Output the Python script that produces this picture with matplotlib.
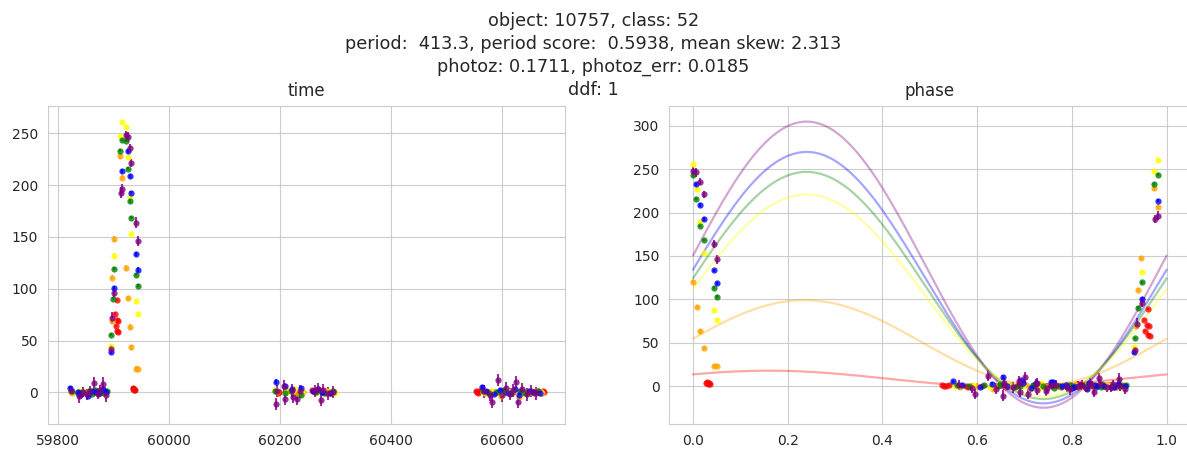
import numpy as np
import matplotlib
matplotlib.use("Agg")
import matplotlib.pyplot as plt
import seaborn as sns

sns.set_style("whitegrid")
plt.rcParams["font.family"] = ["DejaVu Sans"]

# ---- object summary ----
object_id = 10757
target_class = 52
period = 413.26
period_score = 0.5938
mean_skew = 2.313
photoz = 0.1711
photoz_err = 0.0185
ddf = 1

band_colors = ["purple", "blue", "green", "yellow", "orange", "red"]

# ---- light curve per passband: MJD, flux, flux error ----
t_u = [59823, 59838, 59845, 59852, 59858, 59864, 59871, 59876, 59881, 59886,
       59895.0, 59896.6, 59900.8, 59912.4, 59915.3, 59922.8, 59925.0, 59928.9, 59932.0, 59940.8, 59943.4,
       60193, 60194, 60207, 60208, 60222, 60223, 60231, 60236, 60262, 60269, 60273, 60278, 60287, 60295,
       60568, 60579, 60582, 60593, 60600, 60607, 60615, 60620, 60626, 60628, 60636, 60645, 60653, 60662]
f_u = [1.5, -3.8, 0.5, -2.0, 1.2, 9.0, -1.5, 2.0, 8.5, -3.0,
       41.4, 72.0, 95.8, 192.7, 196.5, 248.5, 246.5, 235.8, 221.0, 163.8, 146.0,
       -11.0, 1.5, 6.0, -6.5, 2.0, -4.5, -6.0, 1.0, 1.5, 3.0, -7.0, 2.5, -1.0, 0.5,
       1.0, -2.5, -9.0, 12.0, -3.0, 4.0, -1.5, 2.0, 10.0, -9.0, 3.0, -2.0, 1.5, -1.0]
e_u = [5, 6, 5, 5, 5, 6, 5, 5, 6, 6,
       4, 6, 5, 5, 5, 4, 5, 4, 4, 5, 5,
       6, 6, 6, 6, 6, 6, 6, 6, 6, 6, 6, 6, 6, 6,
       6, 6, 6, 6, 6, 6, 6, 6, 6, 6, 6, 6, 6, 6]

t_g = [59822, 59835, 59840, 59853, 59860, 59868, 59874, 59880, 59886,
       59894.6, 59900.8, 59914.8, 59925.6, 59928.9, 59932.0, 59940.8, 59943.4,
       60193, 60209, 60222, 60237, 60260, 60268, 60275, 60290,
       60563, 60571, 60586, 60597, 60610, 60624, 60631, 60648, 60658, 60668]
f_g = [4.5, 0.8, -2.5, -3.8, 1.5, 0.5, -1.0, 2.8, 0.2,
       38.7, 100.4, 213.8, 232.7, 209.0, 192.7, 133.5, 118.5,
       10.5, 6.5, 3.5, 4.5, 1.5, 3.0, 0.5, -1.0,
       5.5, 1.0, -1.5, 2.5, -0.5, 3.0, -2.5, 1.0, 0.5, -1.0]
e_g = [2] * len(t_g)

t_r = [59824, 59836, 59842, 59855, 59861, 59866, 59876, 59882, 59887,
       59895.0, 59897.9, 59900.8, 59912.1, 59915.3, 59922.8, 59925.6, 59928.9, 59932.0, 59940.8, 59943.4,
       60191, 60208, 60220, 60238, 60264, 60279, 60296,
       60566, 60577, 60590, 60604, 60617, 60633, 60641, 60655, 60665]
f_r = [1.2, -0.8, 0.5, 1.8, -1.2, 2.5, 0.3, -0.5, 1.0,
       55.5, 90.4, 119.5, 233.0, 243.7, 243.0, 216.0, 184.6, 168.5, 113.5, 103.0,
       1.5, -0.5, 1.0, -2.5, 0.2, -1.0, 1.2,
       1.0, -0.5, 0.8, 2.0, -1.0, 1.5, -0.5, 0.3, 1.2]
e_r = [1.5] * len(t_r)

t_i = [59823, 59837, 59851, 59862, 59873, 59884,
       59894.6, 59900.8, 59911.8, 59915.1, 59922.8, 59926.0, 59928.9, 59932.0, 59940.8, 59943.4,
       60190, 60211, 60226, 60240, 60266, 60284, 60298,
       60565, 60580, 60595, 60611, 60622, 60638, 60650, 60670]
f_i = [0.2, 1.0, -0.8, 1.5, 0.6, -1.2,
       44.8, 132.0, 247.5, 260.5, 255.8, 227.0, 189.0, 153.0, 87.7, 76.0,
       2.5, 0.5, 3.5, -1.0, 0.8, 1.5, -0.5,
       0.5, 1.5, -0.8, 1.0, 2.0, -1.5, 0.5, 0.8]
e_i = [2] * len(t_i)

t_z = [59824, 59843, 59856, 59869, 59879, 59885,
       59896.2, 59897.7, 59900.6, 59912.1, 59915.1, 59922.8, 59926.0, 59928.9, 59932.0, 59940.9, 59943.4,
       60195, 60213, 60229, 60242, 60270, 60288,
       60569, 60584, 60598, 60613, 60630, 60644, 60660, 60672]
f_z = [-0.5, 0.8, 1.2, -0.6, 0.4, 0.9,
       69.0, 110.7, 148.0, 228.0, 207.0, 120.0, 90.8, 63.0, 43.5, 23.0, 23.0,
       0.5, 1.5, -1.5, 0.5, 2.0, 0.8,
       -1.0, 0.5, -3.5, 1.2, -4.0, 0.6, 1.0, -0.5]
e_z = [2.5] * len(t_z)

t_y = [59845, 59852, 59858, 59866, 59870, 59872, 59874, 59876, 59878, 59880, 59882,
       59902.9, 59903.6, 59905.8, 59906.1, 59906.8, 59907.0, 59908.6,
       59933.9, 59935.1, 59935.9, 59936.8, 59937.6,
       60196, 60198, 60258, 60260, 60262, 60265, 60282, 60285, 60289, 60292, 60297,
       60553, 60555, 60557, 60559, 60574, 60576, 60588, 60602, 60605, 60619,
       60634, 60640, 60646, 60657, 60664, 60667, 60670, 60673, 60676]
f_y = [-1.0, 0.5, -0.5, 0.8, 1.5, -0.2, 0.9, -0.8, 0.3, 1.1, -0.4,
       76.0, 64.0, 70.0, 59.4, 89.0, 69.0, 58.2,
       3.0, 4.5, 2.5, 3.5, 2.0,
       -1.0, 0.5, 2.5, 1.8, 0.3, 1.0, -0.5, 1.2, 0.0, -0.8, 0.6,
       1.5, 0.5, -0.5, 1.0, 0.2, -0.8, 0.6, -0.3, 1.0, 0.4,
       -0.5, 0.8, 0.2, -0.6, 1.1, 0.3, -0.4, 0.9, 0.1]
e_y = [1.2] * len(t_y)

band_times = [t_u, t_g, t_r, t_i, t_z, t_y]
band_fluxes = [f_u, f_g, f_r, f_i, f_z, f_y]
band_errors = [e_u, e_g, e_r, e_i, e_z, e_y]

# ---- periodic model per passband: mean, amplitude, phase of maximum ----
model_mean = [140.0, 125.0, 116.0, 104.5, 50.0, 8.5]
model_amp = [165.0, 145.0, 131.0, 116.5, 49.0, 9.2]
model_peak = [0.24, 0.24, 0.24, 0.24, 0.235, 0.16]

fig = plt.figure(figsize=(11.87, 4.53), dpi=100)
W, H = 1187.0, 453.0
ax_t = fig.add_axes([47.7 / W, (H - 424) / H, (565.3 - 47.7) / W, 318 / H])
ax_p = fig.add_axes([669.3 / W, (H - 424) / H, 521.0 / W, 318 / H])

plot_order = [5, 4, 3, 2, 1, 0]
for b in plot_order:
    t = np.asarray(band_times[b], dtype=float)
    f = np.asarray(band_fluxes[b], dtype=float)
    e = np.asarray(band_errors[b], dtype=float)
    c = band_colors[b]
    ax_t.errorbar(t, f, yerr=e, fmt="o", color=c, markersize=4.5,
                  elinewidth=1.5, alpha=0.8, markeredgewidth=0)
    phase = (t % period) / period
    ax_p.errorbar(phase, f, yerr=e, fmt="o", color=c, markersize=4.5,
                  elinewidth=1.5, alpha=0.8, markeredgewidth=0)

phase_grid = np.linspace(0, 1, 200)
for b in range(6):
    model = model_mean[b] + model_amp[b] * np.cos(2 * np.pi * (phase_grid - model_peak[b]))
    ax_p.plot(phase_grid, model, color=band_colors[b], alpha=0.35, lw=1.6)

ax_t.set_xlim(59781, 60714)
ax_t.set_ylim(-30.5, 276.3)
ax_p.set_xlim(-0.05, 1.05)
ax_p.set_ylim(-43.8, 323)

for ax in (ax_t, ax_p):
    ax.tick_params(labelsize=10)
ax_t.set_xticks([59800, 60000, 60200, 60400, 60600])
ax_t.set_yticks([0, 50, 100, 150, 200, 250])
ax_p.set_xticks([0.0, 0.2, 0.4, 0.6, 0.8, 1.0])
ax_p.set_yticks([0, 50, 100, 150, 200, 250, 300])

ax_t.set_title("time", fontsize=12, pad=7)
ax_p.set_title("phase", fontsize=12, pad=7)

title = (f"object: {object_id}, class: {target_class}\n"
         f"period: {period:6.1f}, period score: {period_score:7.4f}, mean skew: {mean_skew:.3f}\n"
         f"photoz: {photoz:.4f}, photoz_err: {photoz_err:.4f}\n"
         f"ddf: {ddf}")
fig.text(0.5, 1 - 12 / H, title, ha="center", va="top", fontsize=12.7,
         linespacing=1.35, color=".15")

fig.savefig("out.png", dpi=100)
